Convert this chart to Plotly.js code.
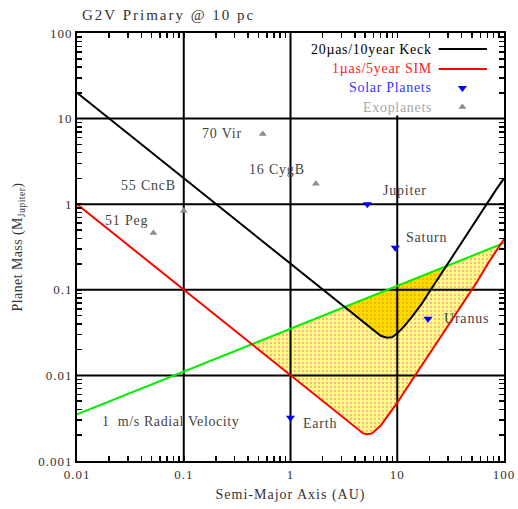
<!DOCTYPE html>
<html><head><meta charset="utf-8">
<script src="https://cdn.plot.ly/plotly-3.0.1.min.js"></script>
<style>html,body{margin:0;padding:0;background:#fff}</style>
</head><body><div id="chart" style="width:518px;height:509px"></div>
<script>
// ---- data ----
const keckA = [0.01, 1, 5, 6, 7, 8, 9, 10, 11.5, 14, 17, 20.6, 25, 30.4, 40, 48.5, 60, 70, 85, 100];
const keckM = [20, 0.2, 0.04, 0.034, 0.029, 0.0275, 0.028, 0.031, 0.037, 0.05, 0.069, 0.1, 0.145, 0.21, 0.35, 0.5, 0.76, 1.02, 1.5, 2.0];
const simA = [0.01, 1, 3, 4, 4.8, 5.2, 5.8, 7, 8.5, 10, 12, 14.8, 20, 30, 42, 55, 72, 100];
const simM = [1, 0.01, 0.0033, 0.0025, 0.0021, 0.00205, 0.0021, 0.0026, 0.0036, 0.0048, 0.0068, 0.0101, 0.018, 0.038, 0.072, 0.12, 0.21, 0.39];
const rvA = [0.01, 100];
const rvM = [0.0035, 0.352];
const solarNames = ['Earth', 'Jupiter', 'Saturn', 'Uranus'];
const solarA = [1.0, 5.25, 9.6, 19.4];
const solarM = [0.0032, 1.0, 0.31, 0.046];
const exoNames = ['51 Peg', '55 CncB', '70 Vir', '16 CygB'];
const exoA = [0.052, 0.1, 0.55, 1.73];
const exoM = [0.46, 0.84, 6.6, 1.73];
const xTickVals = [0.01, 0.1, 1, 10, 100];
const xTickText = ['0.01', '0.1', '1', '10', '100'];
const yTickVals = [0.001, 0.01, 0.1, 1, 10, 100];
const yTickText = ['0.001', '0.01', '0.1', '1', '10', '100'];
const legendNames = ['20\u00b5as/10year Keck', '1\u00b5as/5year SIM', 'Solar Planets', 'Exoplanets'];
const titleText = 'G2V Primary @ 10 pc';
const xTitle = 'Semi-Major Axis (AU)';
const yTitle = 'Planet Mass (M<sub>Jupiter</sub>)';
const rvLabel = '1  m/s Radial Velocity';

// ---- styles ----
const SERIF = 'Liberation Serif, Times New Roman, serif';
const sp = (t, px) => '<span style="letter-spacing:' + px + 'px">' + t + '</span>';
const legendColors = ['#000000', '#ff1a1a', '#3535ff', '#a8a8a8'];
const solarShift = [[10, -6, 'left'], [14, 14, 'left'], [9, 10, 'left'], [14, 0, 'left']];
const exoShift = [[-3, 13, 'right'], [-6, 25, 'right'], [-19, 1, 'right'], [-9, 14, 'right']];

const L = Math.log10;
function greenLog(lx) {
  const x0 = L(rvA[0]), x1 = L(rvA[rvA.length - 1]), y0 = L(rvM[0]), y1 = L(rvM[rvM.length - 1]);
  return y0 + (y1 - y0) * (lx - x0) / (x1 - x0);
}
// polygon of the region lying above curve (A,M) and below the RV line
function regionBelowGreen(A, M) {
  const xs = [], ys = [];
  const d = A.map((a, i) => L(M[i]) - greenLog(L(a)));
  if (d[0] < 0) { xs.push(A[0]); ys.push(Math.pow(10, greenLog(L(A[0])))); }
  for (let i = 0; i < A.length; i++) {
    if (i > 0 && (d[i - 1] < 0) !== (d[i] < 0)) {
      const t = d[i - 1] / (d[i - 1] - d[i]);
      const lx = L(A[i - 1]) + t * (L(A[i]) - L(A[i - 1]));
      const ly = L(M[i - 1]) + t * (L(M[i]) - L(M[i - 1]));
      xs.push(Math.pow(10, lx)); ys.push(Math.pow(10, ly));
    }
    if (d[i] < 0) { xs.push(A[i]); ys.push(M[i]); }
  }
  const n = A.length - 1;
  if (d[n] < 0) { xs.push(A[n]); ys.push(Math.pow(10, greenLog(L(A[n])))); }
  return {x: xs, y: ys};
}
const light = regionBelowGreen(simA, simM);
const dark = regionBelowGreen(keckA, keckM);

// grid lines at inner decades, drawn as a trace so they sit above the fills
const gx = [], gy = [];
const xr = [xTickVals[0], xTickVals[xTickVals.length - 1]];
const yr = [yTickVals[0], yTickVals[yTickVals.length - 1]];
xTickVals.slice(1, -1).forEach(v => { gx.push(v, v, null); gy.push(yr[0], yr[1], null); });
yTickVals.slice(1, -1).forEach(v => { gx.push(xr[0], xr[1], null); gy.push(v, v, null); });
// tick positions: labelled decades plus unlabelled 2..9 within each decade
const withMinor = (vals, texts, pad) => {
  const tv = vals.slice(), tt = texts.map(t => sp(t, pad));
  vals.slice(0, -1).forEach(v => { for (let k = 2; k <= 9; k++) { tv.push(k * v); tt.push(''); } });
  return {tv, tt};
};
const xt = withMinor(xTickVals, xTickText, 1);
const yt = withMinor(yTickVals, yTickText, 1);

const legY = [0.9626, 0.9159, 0.8715, 0.8271];
const traces = [
  {x: light.x, y: light.y, mode: 'lines', fill: 'toself', fillcolor: '#ffff8a',
   fillpattern: {shape: '.', bgcolor: '#ffff8a', fgcolor: '#ffb08a', size: 4, solidity: 0.25},
   line: {width: 0, color: 'rgba(0,0,0,0)'}, hoverinfo: 'skip'},
  {x: dark.x, y: dark.y, mode: 'lines', fill: 'toself', fillcolor: '#ffdc00',
   fillpattern: {shape: '.', bgcolor: '#ffdc00', fgcolor: '#f0b400', size: 4, solidity: 0.25},
   line: {width: 0, color: 'rgba(0,0,0,0)'}, hoverinfo: 'skip'},
  {x: gx, y: gy, mode: 'lines', line: {color: '#000', width: 2}, hoverinfo: 'skip', connectgaps: false},
  {x: rvA, y: rvM, mode: 'lines', line: {color: '#00ee00', width: 2}},
  {x: keckA, y: keckM, mode: 'lines', line: {color: '#000000', width: 2}},
  {x: simA, y: simM, mode: 'lines', line: {color: '#ff0000', width: 2}},
  {x: solarA, y: solarM, mode: 'markers', marker: {symbol: 'triangle-down', size: 8, color: '#0000ff'}},
  {x: exoA, y: exoM, mode: 'markers', marker: {symbol: 'triangle-up', size: 7, color: '#8c8c8c'}},
  // legend box and samples on hidden overlay axes (paper-like 0..1)
  {x: [0.525, 1, 1, 0.525, 0.525], y: [0.807, 0.807, 1, 1, 0.807], xaxis: 'x2', yaxis: 'y2', mode: 'lines',
   fill: 'toself', fillcolor: '#ffffff', line: {width: 0, color: 'rgba(0,0,0,0)'}, hoverinfo: 'skip'},
  {x: [0.847, 0.96], y: [legY[0], legY[0]], xaxis: 'x2', yaxis: 'y2', mode: 'lines', line: {width: 2, color: '#000'}, hoverinfo: 'skip'},
  {x: [0.847, 0.96], y: [legY[1], legY[1]], xaxis: 'x2', yaxis: 'y2', mode: 'lines', line: {width: 2, color: '#ff0000'}, hoverinfo: 'skip'},
  {x: [0.9026], y: [legY[2]], xaxis: 'x2', yaxis: 'y2', mode: 'markers', marker: {symbol: 'triangle-down', size: 8, color: '#0000ff'}},
  {x: [0.9026], y: [legY[3]], xaxis: 'x2', yaxis: 'y2', mode: 'markers', marker: {symbol: 'triangle-up', size: 7, color: '#8c8c8c'}}
];

const LAB = {size: 14, color: '#444'};
const annotations = [];
solarNames.forEach((n, i) => annotations.push({x: L(solarA[i]), y: L(solarM[i]), xref: 'x', yref: 'y', text: sp(n, 0.8),
  showarrow: false, xanchor: solarShift[i][2], xshift: solarShift[i][0], yshift: solarShift[i][1], font: LAB}));
exoNames.forEach((n, i) => annotations.push({x: L(exoA[i]), y: L(exoM[i]), xref: 'x', yref: 'y', text: sp(n, 0.8),
  showarrow: false, xanchor: exoShift[i][2], xshift: exoShift[i][0], yshift: exoShift[i][1], font: LAB}));
legendNames.forEach((n, i) => annotations.push({x: 0.836, y: legY[i], xref: 'paper', yref: 'paper', text: sp(n, 0.7),
  showarrow: false, xanchor: 'right', yanchor: 'middle', font: {size: 14, color: legendColors[i]}}));
annotations.push({x: 0.053, y: 0.093, xref: 'paper', yref: 'paper', text: sp(rvLabel, 0.6), showarrow: false,
  xanchor: 'left', yanchor: 'middle', font: LAB});

const tickFont = {size: 13, color: '#333'};
const axisCommon = {
  type: 'log', showgrid: false, zeroline: false, showline: true, linecolor: '#000', linewidth: 2,
  mirror: 'ticks', ticks: 'inside', ticklen: 5, tickwidth: 1.5, tickcolor: '#000', tickmode: 'array', tickfont: tickFont
};
const layout = {
  width: 518, height: 509, margin: {l: 77, r: 14, t: 33, b: 48},
  paper_bgcolor: '#fff', plot_bgcolor: '#fff', showlegend: false,
  font: {family: SERIF, size: 12, color: '#333'},
  title: {text: sp(titleText, 2), xref: 'container', yref: 'container', x: 82 / 518, xanchor: 'left',
    y: 1 - 15 / 509, yanchor: 'middle', font: {size: 15, color: '#333'}},
  xaxis: Object.assign({}, axisCommon, {range: [L(xr[0]), L(xr[1])], tickvals: xt.tv, ticktext: xt.tt,
    ticklabelstandoff: 0,
    title: {text: sp(xTitle, 1), standoff: 9, font: {size: 14, color: '#333'}}}),
  yaxis: Object.assign({}, axisCommon, {range: [L(yr[0]), L(yr[1])], tickvals: yt.tv, ticktext: yt.tt,
    ticklabelstandoff: 0,
    title: {text: sp(yTitle, 0.4), standoff: 12, font: {size: 14, color: '#333'}}}),
  xaxis2: {overlaying: 'x', range: [0, 1], visible: false, fixedrange: true},
  yaxis2: {overlaying: 'y', range: [0, 1], visible: false, fixedrange: true},
  annotations: annotations
};
Plotly.newPlot('chart', traces, layout, {displayModeBar: false, staticPlot: true});
</script></body></html>
